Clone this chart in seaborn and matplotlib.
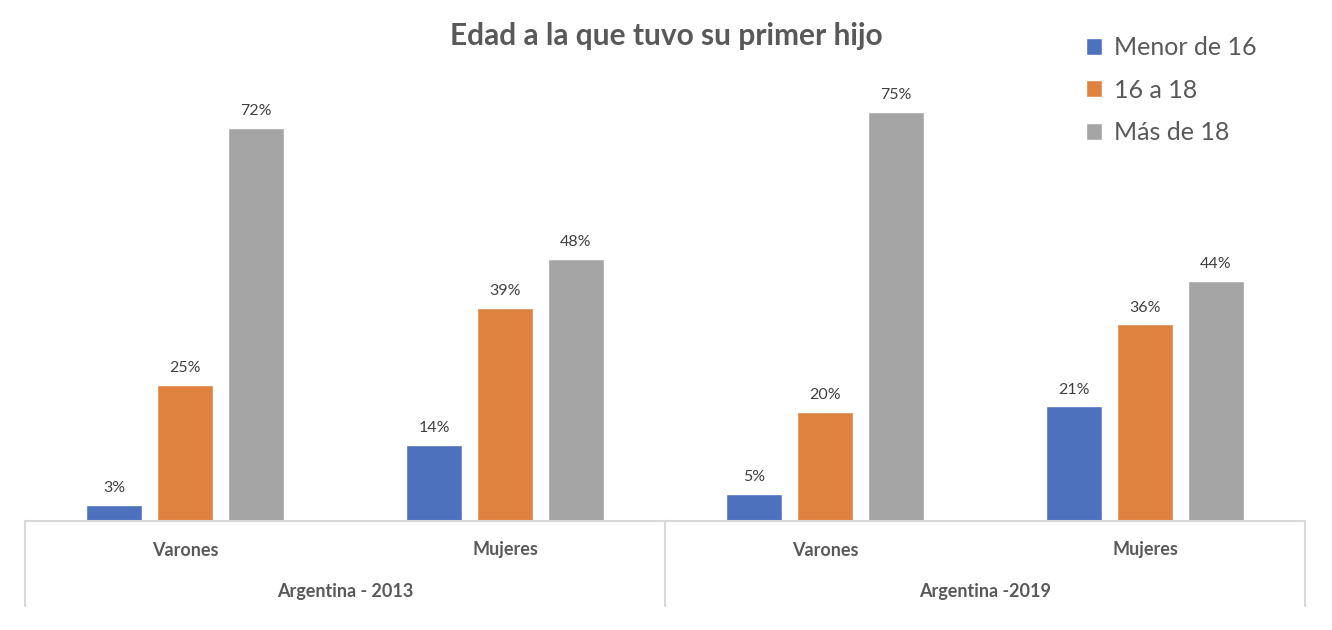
import pandas as pd
import matplotlib
matplotlib.use("Agg")
import matplotlib.pyplot as plt
import matplotlib.transforms as mtransforms
import seaborn as sns

# data
grupos = ["Varones", "Mujeres", "Varones", "Mujeres"]
anios = ["Argentina - 2013", "Argentina -2019"]
edades = ["Menor de 16", "16 a 18", "Más de 18"]
menor_16 = [3, 14, 5, 21]
de_16_a_18 = [25, 39, 20, 36]
mas_de_18 = [72, 48, 75, 44]

COLORS = ["#4E71BE", "#E0823F", "#A5A5A5"]
TEXT = "#595959"
LINE = "#D9D9D9"

keys = [f"{g} {i}" for i, g in enumerate(grupos)]
rows = []
for serie, valores in zip(edades, [menor_16, de_16_a_18, mas_de_18]):
    for k, v in zip(keys, valores):
        rows.append({"grupo": k, "edad": serie, "pct": v})
df = pd.DataFrame(rows)

sns.set_theme(style="white")
plt.rcParams["font.family"] = ["Lato", "DejaVu Sans"]

fig = plt.figure(figsize=(13.32, 6.3), dpi=100)
ax = fig.add_axes([25 / 1332, 109 / 630, 1280 / 1332, 491 / 630])

sns.barplot(data=df, x="grupo", y="pct", hue="edad", order=keys,
            hue_order=edades, palette=COLORS, width=0.666, gap=0.21,
            saturation=1, ax=ax)

ax.set_xlim(-0.5, 3.5)
ax.set_ylim(0, 491 / 5.46)
ax.set_xlabel("")
ax.set_ylabel("")
ax.set_xticks([])
ax.set_yticks([])
for s in ["top", "left", "right"]:
    ax.spines[s].set_visible(False)
ax.spines["bottom"].set_color(LINE)
ax.spines["bottom"].set_linewidth(1.5)

for cont in ax.containers:
    ax.bar_label(cont, labels=[f"{int(v)}%" for v in cont.datavalues],
                 padding=7, fontsize=11.5, color="#404040")

# two level category axis
trans = mtransforms.blended_transform_factory(ax.transData, fig.transFigure)
for xpos in [-0.5, 1.5, 3.5]:
    ax.plot([xpos, xpos], [109 / 630, 24 / 630], color=LINE, lw=1.5,
            transform=trans, clip_on=False)
for i, g in enumerate(grupos):
    ax.text(i, 80 / 630, g, transform=trans, ha="center", va="center",
            fontsize=13, fontweight="bold", color=TEXT)
for j, a in enumerate(anios):
    ax.text(2 * j + 0.5, 39 / 630, a, transform=trans, ha="center",
            va="center", fontsize=13, fontweight="bold", color=TEXT)

fig.text(666 / 1332, 1 - 36 / 630, "Edad a la que tuvo su primer hijo",
         ha="center", va="center", fontsize=21.5, fontweight="bold", color=TEXT)

leg = ax.legend(loc="upper left", bbox_to_anchor=(1086 / 1332, 1 - 36 / 630),
                bbox_transform=fig.transFigure, frameon=False, fontsize=18,
                handlelength=0.65, handleheight=0.65, handletextpad=0.45,
                labelspacing=0.78, borderaxespad=0, borderpad=0)
for t in leg.get_texts():
    t.set_color(TEXT)

fig.savefig("out.png", dpi=100, facecolor="white")
